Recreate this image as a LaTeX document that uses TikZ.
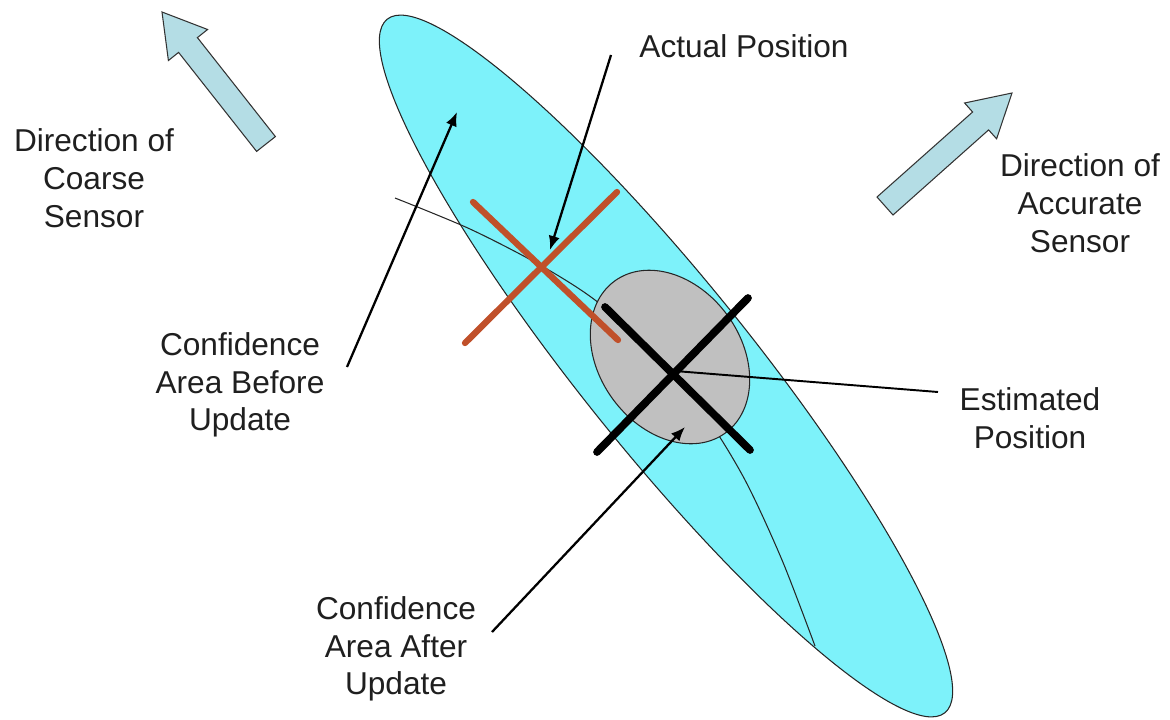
\documentclass[tikz,border=0pt]{standalone}
\usepackage{fontspec}
\setmainfont{Liberation Sans}
\usetikzlibrary{positioning, arrows.meta}
\definecolor{CoarseCyan}{RGB}{125,242,250}
\definecolor{UpdateGray}{RGB}{192,192,192}
\definecolor{ActualOrange}{RGB}{192,80,42}
\definecolor{SensorBlue}{RGB}{180,221,229}

\begin{document}
\begin{tikzpicture}[x=0.02cm, y=-0.02cm, >=Latex, font=\fontsize{18}{21.5}\selectfont]
    \tikzstyle{textlabel} = [align=center, text=black!88, inner sep=0pt]
    \tikzstyle{pointer} = [line width=1.3pt, ->, >={Latex[length=8pt,width=6.5pt]}]
    \tikzstyle{sensorarrow} = [draw=black!80, fill=SensorBlue, line width=0.6pt, line join=miter]
    \tikzstyle{area} = [draw=black!85, line width=0.6pt]
    \tikzstyle{crossbar} = [line width=3.6pt, line cap=round]

    \useasboundingbox (0,0) rectangle (1170,720);

    % confidence areas
    \draw [area, fill=CoarseCyan, rotate around={-51.2:(666,366)}] (666,366) ellipse [x radius=445, y radius=85];
    \draw [line width=0.6pt, black!85] plot [smooth] coordinates {(395,198) (470,229) (540,265) (595,300) (652,350) (705,415) (745,480) (782,560) (815,646)};
    \draw [area, fill=UpdateGray, rotate around={-54:(670,357)}] (670,357) ellipse [x radius=94, y radius=71];

    % positions
    \coordinate (actualpos) at (542,267);
    \coordinate (estpos) at (675,371);
    \draw [crossbar, ActualOrange] (473,202) -- (618,340);
    \draw [crossbar, ActualOrange] (465,343) -- (617,192);
    \draw [crossbar, line width=4.4pt, black] (605,307) -- (750,450);
    \draw [crossbar, line width=4.4pt, black] (748,298) -- (597,452);

    % sensor directions
    \draw [sensorarrow] (162,12) -- (207.6,29.5) -- (197.4,37.6) -- (275.4,136.6) -- (256.6,151.4) -- (178.6,52.4) -- (168.4,60.5) -- cycle;
    \draw [sensorarrow] (1012,93) -- (996.6,138.8) -- (988.6,129.9) -- (893,215) -- (877,197) -- (972.6,112) -- (964.6,103) -- cycle;

    % labels
    \node [textlabel] (actual) at (744,46) {Actual Position};
    \node [textlabel] (coarse) at (94,178) {Direction of\\Coarse\\Sensor};
    \node [textlabel] (accurate) at (1080,203) {Direction of\\Accurate\\Sensor};
    \node [textlabel] (before) at (240,385) {Confidence\\Area Before\\Update};
    \node [textlabel] (after) at (396,649) {Confidence\\Area After\\Update};
    \node [textlabel] (estimated) at (1030,418) {Estimated\\Position};

    % pointers
    \coordinate (actualtail) at (611,55);
    \coordinate (actualtip) at (550,250);
    \coordinate (beforetail) at (347,367);
    \coordinate (beforetip) at (457,112);
    \coordinate (aftertail) at (492,632);
    \coordinate (aftertip) at (685,427);
    \coordinate (esttail) at (938,392);

    \draw [pointer] (actualtail) -- (actualtip);
    \draw [pointer] (beforetail) -- (beforetip);
    \draw [pointer] (aftertail) -- (aftertip);
    \draw [line width=1.1pt] (estpos) -- (esttail);
\end{tikzpicture}
\end{document}
